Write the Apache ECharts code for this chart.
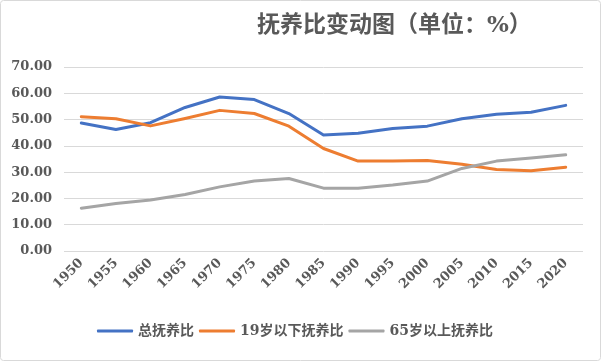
<!DOCTYPE html>
<html><head><meta charset="utf-8">
<script src="https://cdn.jsdelivr.net/npm/echarts@6/dist/echarts.min.js"></script>
<style>html,body{margin:0;padding:0;background:#fff}#c{width:602px;height:362px}</style>
</head><body><div id="c"></div>
<script>
const categories = ['1950','1955','1960','1965','1970','1975','1980','1985','1990','1995','2000','2005','2010','2015','2020'];
const totalRatio = [48.7,46.2,48.8,54.6,58.6,57.6,52.3,44.1,44.8,46.6,47.5,50.3,52.0,52.8,55.4];
const youngRatio = [51.1,50.3,47.6,50.4,53.5,52.3,47.5,39.0,34.2,34.2,34.4,33.0,31.0,30.5,31.9];
const oldRatio = [16.3,18.1,19.4,21.5,24.4,26.6,27.6,23.9,23.9,25.1,26.6,31.4,34.2,35.4,36.6];
const seriesNames = ['总抚养比','19岁以下抚养比','65岁以上抚养比'];
const FONT = '"DejaVu Serif","Noto Sans CJK SC",serif';
const chart = echarts.init(document.getElementById('c'));
const mk = (name, data, color) => ({
  name, type:'line', data, symbol:'none', smooth:false,
  lineStyle:{width:3, color, cap:'round', join:'round'}, itemStyle:{color}
});
chart.setOption({
  animation:false,
  title:{text:'抚养比变动图（单位：%）', left:252, top:10,
    textStyle:{fontFamily:FONT, fontSize:23, fontWeight:'bold', color:'#595959'}},
  graphic:[{type:'rect', shape:{x:0.5,y:0.5,width:600,height:360,r:3}, style:{fill:'none', stroke:'#d9d9d9', lineWidth:1}}],
  legend:{bottom:19, left:92, itemWidth:36, itemHeight:3, itemGap:5,
    textStyle:{fontFamily:FONT, fontSize:14, fontWeight:'bold', color:'#595959'},
    data:seriesNames.map(n=>({name:n, icon:'roundRect'}))},
  grid:{left:64, right:19, top:67, bottom:111},
  xAxis:{type:'category', data:categories, boundaryGap:true,
    axisLine:{show:false}, axisTick:{show:false},
    axisLabel:{rotate:45, margin:10, fontFamily:FONT, fontSize:13, fontWeight:'bold', color:'#595959', interval:0}},
  yAxis:{type:'value', min:0, max:70, interval:10,
    axisLine:{show:false}, axisTick:{show:false},
    splitLine:{lineStyle:{color:'#d9d9d9', width:1}},
    axisLabel:{margin:12, fontFamily:FONT, fontSize:13, fontWeight:'bold', color:'#595959', formatter:v=>v.toFixed(2)}},
  series:[mk(seriesNames[0], totalRatio, '#4472C4'), mk(seriesNames[1], youngRatio, '#ED7D31'), mk(seriesNames[2], oldRatio, '#A5A5A5')]
});
</script></body></html>
